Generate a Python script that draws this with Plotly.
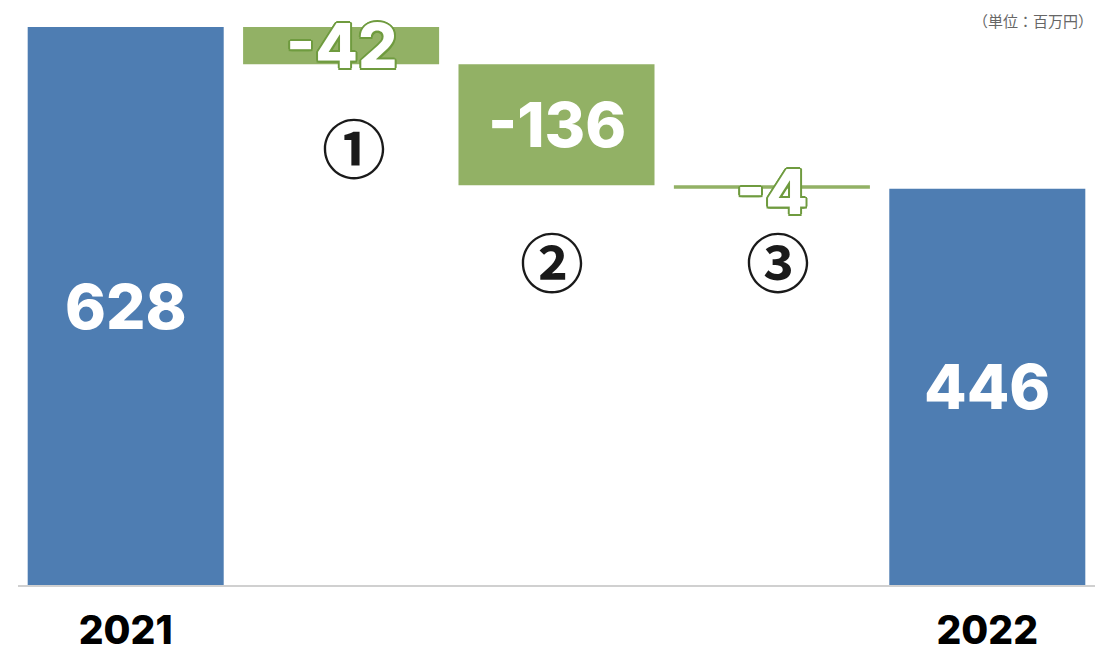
import plotly.graph_objects as go

# ---- data ----
categories = ["2021", "①", "②", "③", "2022"]
measures = ["absolute", "relative", "relative", "relative", "total"]
values = [628, -42, -136, -4, 446]
value_labels = ["628", "-42", "-136", "-4", "446"]
tick_labels = ["2021", "", "", "", "2022"]
step_labels = ["①", "②", "③"]

BLUE = "#4e7db2"
GREEN = "#92b165"
GREEN_DARK = "#6f9b3f"
NUMFONT = "Inter, DejaVu Sans, Arial, sans-serif"

fig = go.Figure()
fig.add_trace(go.Waterfall(
    x=list(range(len(categories))),
    y=[values[0], values[1], values[2], values[3], 0],
    measure=measures,
    decreasing=dict(marker=dict(color=GREEN)),
    increasing=dict(marker=dict(color=GREEN)),
    totals=dict(marker=dict(color=BLUE)),
    connector=dict(visible=False),
    hoverinfo="skip",
    showlegend=False,
))

# running levels for label placement
levels = []
cur = 0
for m, v in zip(measures, values):
    if m == "absolute":
        lo, hi = 0, v
        cur = v
    elif m == "total":
        lo, hi = 0, cur
    else:
        lo, hi = min(cur, cur + v), max(cur, cur + v)
        cur = cur + v
    levels.append((lo, hi))

outline = ", ".join(
    f"{dx}px {dy}px 0 {GREEN_DARK}"
    for dx, dy in [(2, 0), (-2, 0), (0, 2), (0, -2), (1.5, 1.5), (-1.5, 1.5), (1.5, -1.5), (-1.5, -1.5)]
)

annotations = []
for i, lab in enumerate(value_labels):
    lo, hi = levels[i]
    mid = (lo + hi) / 2
    font = dict(family=NUMFONT, size=62, color="white", weight=800)
    if lab in ("-42", "-4"):
        font["shadow"] = outline
    yoff = -5 if lab == "-4" else 0
    annotations.append(dict(
        x=i, y=mid, xref="x", yref="y", text=lab, showarrow=False,
        font=font, yshift=yoff, xanchor="center", yanchor="middle",
    ))

# circled step markers
step_pos = [(1.06, 491.3), (1.979, 363.5), (3.026, 363.5)]
for s, (px, py) in zip(step_labels, step_pos):
    annotations.append(dict(
        x=px, y=py, xref="x", yref="y", text=s, showarrow=False,
        font=dict(family="Noto Sans CJK JP", size=64, color="#1a1a1a", weight="bold"),
        xanchor="center", yanchor="middle", yshift=3,
    ))

annotations.append(dict(
    x=1.0, y=1.0, xref="paper", yref="paper", text="（単位：百万円）",
    showarrow=False, xanchor="right", yanchor="middle",
    font=dict(family="Noto Sans CJK JP", size=15, color="#666666"),
))

fig.update_layout(
    width=1119, height=647,
    margin=dict(l=18, r=24, t=20, b=62, autoexpand=False),
    paper_bgcolor="white", plot_bgcolor="white",
    waterfallgap=0.09,
    annotations=annotations,
    xaxis=dict(
        range=[-0.5, 4.5],
        tickvals=list(range(len(categories))), ticktext=tick_labels,
        showline=True, linecolor="#d0d0d0", linewidth=1.5,
        showgrid=False, ticks="", zeroline=False,
        tickfont=dict(family=NUMFONT, size=39, color="black", weight=800),
        ticklabelstandoff=10, automargin=False,
    ),
    yaxis=dict(range=[0, 635.9], visible=False, showgrid=False, zeroline=False, automargin=False),
)

fig.write_html(
    "out.html",
    config={"displayModeBar": False},
    post_script="document.body.style.margin='0';document.body.style.overflow='hidden';",
)
